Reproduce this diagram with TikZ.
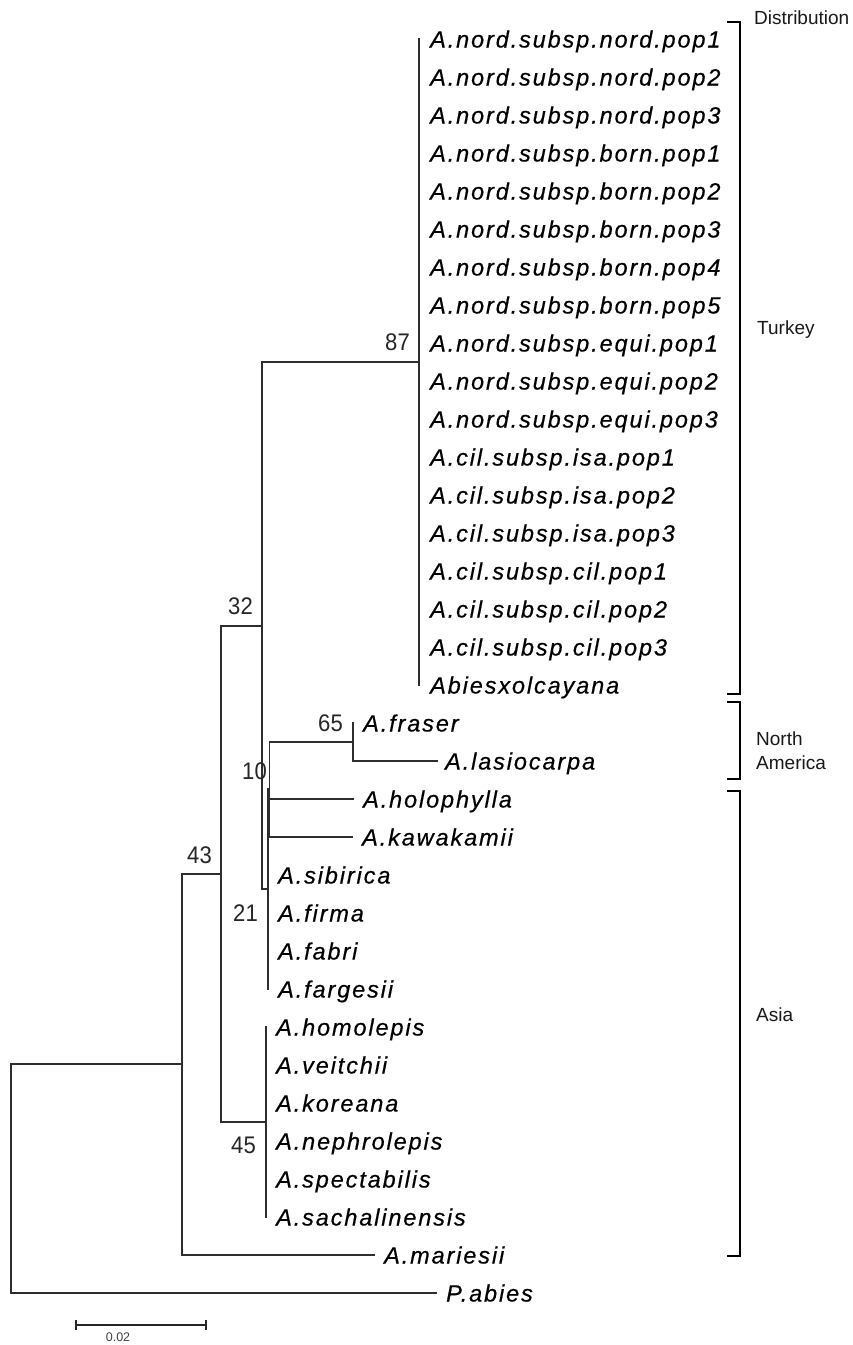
\documentclass[tikz,border=0pt]{standalone}
\usepackage{fontspec}
\newfontfamily\leaffont[LetterSpace=8,FakeBold=0.5]{Liberation Sans}
\newfontfamily\bootfont[FakeStretch=0.92]{Liberation Sans}
\newfontfamily\regfont{Liberation Sans}
\begin{document}
\begin{tikzpicture}[x=1pt,y=-1pt]
\tikzset{
  branch/.style={line width=1.9pt, draw=black!82, line cap=rect},
  bracket/.style={line width=1.7pt, draw=black},
  leaf/.style={font=\leaffont\itshape\fontsize{23.5}{28}\selectfont, anchor=west,
    inner sep=0pt, text height=22pt, text depth=5pt},
  boot/.style={font=\bootfont\fontsize{24}{28}\selectfont, anchor=east,
    inner sep=0pt, text height=17.5pt, text depth=0pt, text=black!85},
  region/.style={font=\regfont\fontsize{19}{22}\selectfont, anchor=west,
    inner sep=0pt, text height=13.6pt, text depth=0pt, text=black!90},
  scalelbl/.style={font=\regfont\fontsize{12.5}{14}\selectfont, inner sep=0pt,
    text height=9pt, text depth=0pt, text=black!75}
}
\fill[white] (0,0) rectangle (853,1345);
\useasboundingbox (0,0) rectangle (853,1345);

% ---- Turkish clade: zero-length tips on one node ----
\foreach \i/\t in {0/{A.nord.subsp.nord.pop1},1/{A.nord.subsp.nord.pop2},
  2/{A.nord.subsp.nord.pop3},3/{A.nord.subsp.born.pop1},4/{A.nord.subsp.born.pop2},
  5/{A.nord.subsp.born.pop3},6/{A.nord.subsp.born.pop4},7/{A.nord.subsp.born.pop5},
  8/{A.nord.subsp.equi.pop1},9/{A.nord.subsp.equi.pop2},10/{A.nord.subsp.equi.pop3},
  11/{A.cil.subsp.isa.pop1},12/{A.cil.subsp.isa.pop2},13/{A.cil.subsp.isa.pop3},
  14/{A.cil.subsp.cil.pop1},15/{A.cil.subsp.cil.pop2},16/{A.cil.subsp.cil.pop3},
  17/{Abiesxolcayana}}{
  \coordinate (l\i) at (419,39+38*\i);
  \node[leaf] (t\i) at ([xshift=11pt]l\i) {\t};
}

% ---- other tips ----
\coordinate (l18) at (353,723);
\coordinate (l19) at (437,761);
\coordinate (l20) at (353,799);
\coordinate (l21) at (352,837);
\coordinate (l22) at (268,875);
\coordinate (l23) at (268,913);
\coordinate (l24) at (268,951);
\coordinate (l25) at (268,989);
\coordinate (l26) at (266,1027);
\coordinate (l27) at (266,1065);
\coordinate (l28) at (266,1103);
\coordinate (l29) at (266,1141);
\coordinate (l30) at (266,1179);
\coordinate (l31) at (266,1217);
\coordinate (l32) at (374,1255);
\coordinate (l33) at (436,1293);

\node[leaf] (t18) at ([xshift=10pt]l18) {A.fraser};
\node[leaf] (t19) at ([xshift=8pt]l19) {A.lasiocarpa};
\node[leaf] (t20) at ([xshift=10pt]l20) {A.holophylla};
\node[leaf] (t21) at ([xshift=10pt]l21) {A.kawakamii};
\node[leaf] (t22) at ([xshift=10pt]l22) {A.sibirica};
\node[leaf] (t23) at ([xshift=10pt]l23) {A.firma};
\node[leaf] (t24) at ([xshift=10pt]l24) {A.fabri};
\node[leaf] (t25) at ([xshift=10pt]l25) {A.fargesii};
\node[leaf] (t26) at ([xshift=10pt]l26) {A.homolepis};
\node[leaf] (t27) at ([xshift=10pt]l27) {A.veitchii};
\node[leaf] (t28) at ([xshift=10pt]l28) {A.koreana};
\node[leaf] (t29) at ([xshift=10pt]l29) {A.nephrolepis};
\node[leaf] (t30) at ([xshift=10pt]l30) {A.spectabilis};
\node[leaf] (t31) at ([xshift=10pt]l31) {A.sachalinensis};
\node[leaf] (t32) at ([xshift=10pt]l32) {A.mariesii};
\node[leaf] (t33) at ([xshift=10pt]l33) {P.abies};

% ---- internal nodes (x of node, y of its stem) ----
\coordinate (n87) at (419,362);
\coordinate (n65) at (353,742);
\coordinate (n10) at (269.5,789);
\coordinate (n21) at (268,889);
\coordinate (n32) at (262,626);
\coordinate (n45) at (266,1122);
\coordinate (n43) at (221,874);
\coordinate (nA)  at (182,1064);
\coordinate (root) at (11,1178);

% ---- branches ----
\draw[branch] (l0) -- (l17);
\draw[branch] (l18) -- (n65 |- l19) -- (l19);
\draw[branch] (n10 |- n65) -- (n10 |- l21);
\draw[branch] (n10 |- n65) -- (n65);
\draw[branch] (n10 |- l20) -- (l20);
\draw[branch] (n10 |- l21) -- (l21);
\draw[branch] (n21 |- n10) -- (l25);
\draw[branch] (n21 |- n10) -- (n10);
\draw[branch] (n32 |- n87) -- (n32 |- n21);
\draw[branch] (n32 |- n87) -- (n87);
\draw[branch] (n32 |- n21) -- (n21);
\draw[branch] (l26) -- (l31);
\draw[branch] (n43 |- n32) -- (n43 |- n45);
\draw[branch] (n43 |- n32) -- (n32);
\draw[branch] (n43 |- n45) -- (n45);
\draw[branch] (nA |- n43) -- (nA |- l32);
\draw[branch] (nA |- n43) -- (n43);
\draw[branch] (nA |- l32) -- (l32);
\draw[branch] (root |- nA) -- (root |- l33);
\draw[branch] (root |- nA) -- (nA);
\draw[branch] (root |- l33) -- (l33);

% ---- bootstrap values ----
\node[boot] (b87) at (410,342) {87};
\node[boot] (b32) at (253,606) {32};
\node[boot] (b43) at (212,855) {43};
\node[boot] (b65) at (343,723) {65};
\node[boot] (b10) at (267,771) {10};
\node[boot] (b21) at (258,913) {21};
\node[boot] (b45) at (256,1145) {45};

% ---- distribution brackets ----
\coordinate (trk0) at (740,22);
\coordinate (trk1) at (740,694);
\coordinate (nam0) at (740,702);
\coordinate (nam1) at (740,779);
\coordinate (asi0) at (740,791);
\coordinate (asi1) at (740,1256);
\draw[bracket] ([xshift=-13pt]trk0) -- (trk0) -- (trk1) -- ([xshift=-13pt]trk1);
\draw[bracket] ([xshift=-13pt]nam0) -- (nam0) -- (nam1) -- ([xshift=-13pt]nam1);
\draw[bracket] ([xshift=-13pt]asi0) -- (asi0) -- (asi1) -- ([xshift=-13pt]asi1);

\node[region] (hdr) at (754,18) {Distribution};
\node[region] (rTur) at (757,328) {Turkey};
\node[region] (rNA1) at (756,739) {North};
\node[region] (rNA2) at (756,763) {America};
\node[region] (rAsia) at (756,1015) {Asia};

% ---- scale bar ----
\coordinate (sb0) at (76,1325);
\coordinate (sb1) at (206,1325);
\draw[line width=1.9pt, black!85] (sb0) -- (sb1);
\draw[line width=1.9pt, black!85] ([yshift=5pt]sb0) -- ([yshift=-5pt]sb0);
\draw[line width=1.9pt, black!85] ([yshift=5pt]sb1) -- ([yshift=-5pt]sb1);
\node[scalelbl] (sblbl) at (118,1337) {0.02};
\end{tikzpicture}
\end{document}
